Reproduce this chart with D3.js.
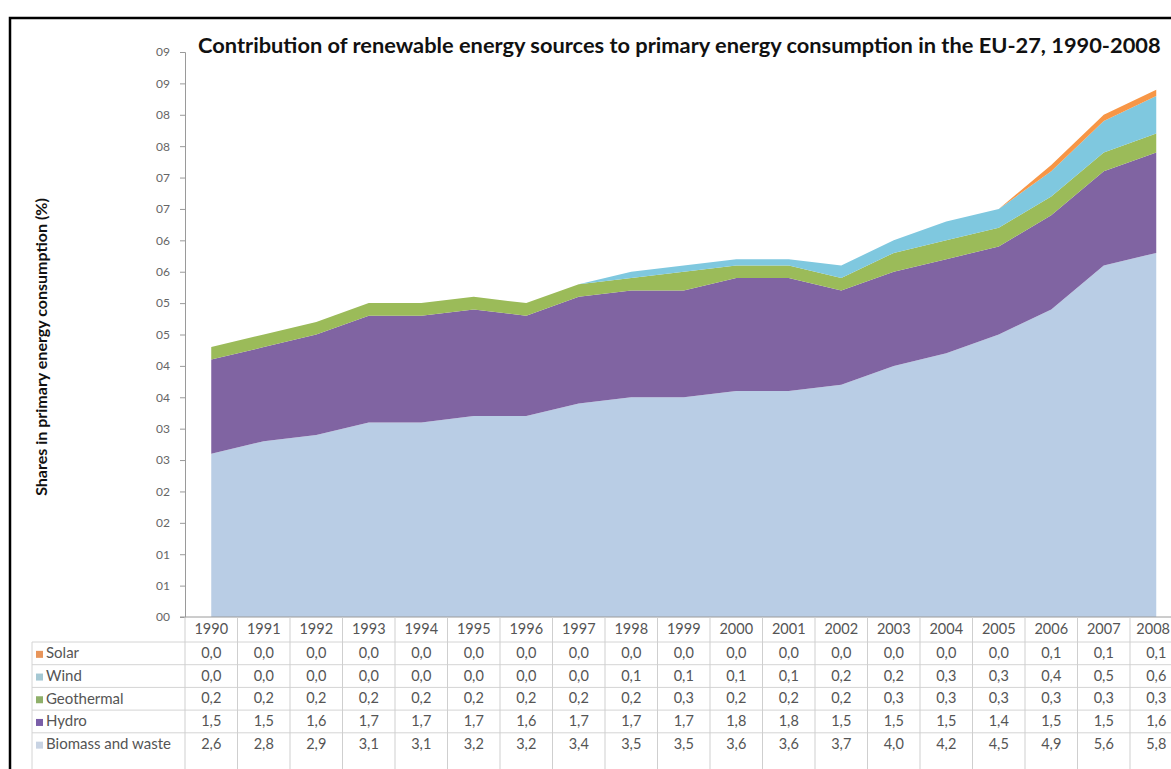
<!DOCTYPE html>
<html>
<head>
<meta charset="utf-8">
<script src="https://cdn.jsdelivr.net/npm/d3@7"></script>
<style>
  body { margin: 0; background: #fff; overflow: hidden; }
  text { font-family: Lato, "Open Sans", sans-serif; }
</style>
</head>
<body>
<div id="wrapper"></div>
<script>
// data
const years = [1990, 1991, 1992, 1993, 1994, 1995, 1996, 1997, 1998, 1999,
               2000, 2001, 2002, 2003, 2004, 2005, 2006, 2007, 2008]

const biomass    = [2.6, 2.8, 2.9, 3.1, 3.1, 3.2, 3.2, 3.4, 3.5, 3.5, 3.6, 3.6, 3.7, 4.0, 4.2, 4.5, 4.9, 5.6, 5.8]
const hydro      = [1.5, 1.5, 1.6, 1.7, 1.7, 1.7, 1.6, 1.7, 1.7, 1.7, 1.8, 1.8, 1.5, 1.5, 1.5, 1.4, 1.5, 1.5, 1.6]
const geothermal = [0.2, 0.2, 0.2, 0.2, 0.2, 0.2, 0.2, 0.2, 0.2, 0.3, 0.2, 0.2, 0.2, 0.3, 0.3, 0.3, 0.3, 0.3, 0.3]
const wind       = [0.0, 0.0, 0.0, 0.0, 0.0, 0.0, 0.0, 0.0, 0.1, 0.1, 0.1, 0.1, 0.2, 0.2, 0.3, 0.3, 0.4, 0.5, 0.6]
const solar      = [0.0, 0.0, 0.0, 0.0, 0.0, 0.0, 0.0, 0.0, 0.0, 0.0, 0.0, 0.0, 0.0, 0.0, 0.0, 0.0, 0.1, 0.1, 0.1]

// stacking order bottom -> top
const seriesNames = ["Biomass and waste", "Hydro", "Geothermal", "Wind", "Solar"]
const seriesValues = [biomass, hydro, geothermal, wind, solar]
const seriesColors = ["#b9cde5", "#8064a2", "#9bbb59", "#7fc8df", "#f79646"]
const legendColors = ["#c8d3e3", "#7a5ea8", "#8fb06a", "#a5c8d3", "#e8955a"]

const yTicks = d3.range(0, 9.01, 0.5)

const title = "Contribution of renewable energy sources to primary energy consumption in the EU-27, 1990-2008"
const yTitle = "Shares in primary energy consumption (%)"

let dimensions = {
    width: 1171,
    height: 769,
    plotLeft: 185,
    plotTop: 52,
    plotBottom: 617,
    colWidth: 52.5,
    headerHeight: 25,
    rowHeight: 22.7,
    labelLeft: 32,
}

const table = years.map((year, i) => {
    const row = { year }
    seriesNames.forEach((name, k) => row[name] = seriesValues[k][i])
    return row
})

const stack = d3.stack().keys(seriesNames)
const layers = stack(table)

const x = d3.scaleBand()
    .domain(years)
    .range([dimensions.plotLeft, dimensions.plotLeft + years.length * dimensions.colWidth])
    .padding(0)

const y = d3.scaleLinear()
    .domain([0, 9])
    .range([dimensions.plotBottom, dimensions.plotTop])

const xc = d => x(d.data.year) + x.bandwidth() / 2

const area = d3.area()
    .x(xc)
    .y0(d => y(d[0]))
    .y1(d => y(d[1]))

const svg = d3.select("#wrapper")
    .append("svg")
    .attr("width", dimensions.width)
    .attr("height", dimensions.height)

// areas
svg.append("g")
    .selectAll("path")
    .data(layers)
    .join("path")
    .attr("d", area)
    .attr("fill", (d, i) => seriesColors[i])

// y axis
const yAxis = d3.axisLeft(y)
    .tickValues(yTicks)
    .tickSize(5)
    .tickFormat(d3.format("02.0f"))

const yAxisG = svg.append("g")
    .attr("transform", `translate(${dimensions.plotLeft},0)`)
    .call(yAxis)
yAxisG.select(".domain").attr("stroke", "#9a9a9a")
yAxisG.selectAll(".tick line").attr("stroke", "#9a9a9a")
yAxisG.selectAll(".tick text")
    .attr("x", -15)
    .attr("fill", "#666")
    .style("font-size", "12px")
    .style("font-family", "Lato, sans-serif")

// table
const comma = d3.formatLocale({ decimal: ",", thousands: ".", grouping: [3], currency: ["", ""] }).format(".1f")
const tableG = svg.append("g")
const tableTop = dimensions.plotBottom + dimensions.headerHeight

// x axis line
tableG.append("line")
    .attr("x1", dimensions.plotLeft - 5).attr("x2", dimensions.width)
    .attr("y1", dimensions.plotBottom).attr("y2", dimensions.plotBottom)
    .attr("stroke", "#9a9a9a")

// horizontal grid lines
d3.range(seriesNames.length).forEach(i => {
    tableG.append("line")
        .attr("x1", dimensions.labelLeft).attr("x2", dimensions.width)
        .attr("y1", tableTop + i * dimensions.rowHeight)
        .attr("y2", tableTop + i * dimensions.rowHeight)
        .attr("stroke", "#d4d4d4")
})

// vertical grid lines
tableG.selectAll(".vline")
    .data(years)
    .join("line")
    .attr("x1", d => x(d)).attr("x2", d => x(d))
    .attr("y1", dimensions.plotBottom).attr("y2", dimensions.height)
    .attr("stroke", "#cfcfcf")
tableG.append("line")
    .attr("x1", dimensions.labelLeft).attr("x2", dimensions.labelLeft)
    .attr("y1", tableTop).attr("y2", dimensions.height)
    .attr("stroke", "#d4d4d4")

// year header
tableG.selectAll(".year")
    .data(years)
    .join("text")
    .attr("class", "year")
    .attr("x", d => x(d) + x.bandwidth() / 2)
    .attr("y", dimensions.plotBottom + dimensions.headerHeight / 2 + 1)
    .attr("text-anchor", "middle")
    .attr("dominant-baseline", "middle")
    .attr("fill", "#555")
    .style("font-size", "14.5px")
    .text(d => d)
    .each(function () {
        // the last column is cut by the page edge; keep its label inside
        const b = this.getBBox()
        const over = b.x + b.width - (dimensions.width - 1)
        if (over > 0) d3.select(this).attr("x", +d3.select(this).attr("x") - over)
    })

// rows: top of table is the top series
const rowOrder = seriesNames.map((n, i) => i).reverse()
rowOrder.forEach((k, r) => {
    const cy = tableTop + r * dimensions.rowHeight + dimensions.rowHeight / 2 + 1
    tableG.append("rect")
        .attr("x", dimensions.labelLeft + 4).attr("y", cy - 3.5)
        .attr("width", 7).attr("height", 7)
        .attr("fill", legendColors[k])
    tableG.append("text")
        .attr("x", dimensions.labelLeft + 14)
        .attr("y", cy)
        .attr("dominant-baseline", "middle")
        .attr("fill", "#555")
        .style("font-size", "15px")
        .text(seriesNames[k])
    tableG.selectAll(null)
        .data(seriesValues[k])
        .join("text")
        .attr("x", (d, i) => x(years[i]) + x.bandwidth() / 2)
        .attr("y", cy)
        .attr("text-anchor", "middle")
        .attr("dominant-baseline", "middle")
        .attr("fill", "#555")
        .style("font-size", "14.5px")
        .text(d => comma(d))
})

// titles
const titleText = svg.append("text")
    .attr("x", 198)
    .attr("y", 53)
    .attr("font-weight", "bold")
    .attr("fill", "#111")
    .style("font-size", "18px")
    .text(title)
const tw = titleText.node().getComputedTextLength()
titleText.style("font-size", (18 * 963 / tw).toFixed(2) + "px")

const yTitleText = svg.append("text")
    .attr("transform", "translate(47,347) rotate(-90)")
    .attr("text-anchor", "middle")
    .attr("font-weight", "bold")
    .attr("fill", "#111")
    .style("font-size", "12px")
    .text(yTitle)
const yw = yTitleText.node().getComputedTextLength()
yTitleText.style("font-size", (12 * 298 / yw).toFixed(2) + "px")

// outer frame
svg.append("path")
    .attr("d", `M10,${dimensions.height + 5}V18H${dimensions.width + 5}`)
    .attr("fill", "none")
    .attr("stroke", "#000")
    .attr("stroke-width", 2.5)
</script>
</body>
</html>
